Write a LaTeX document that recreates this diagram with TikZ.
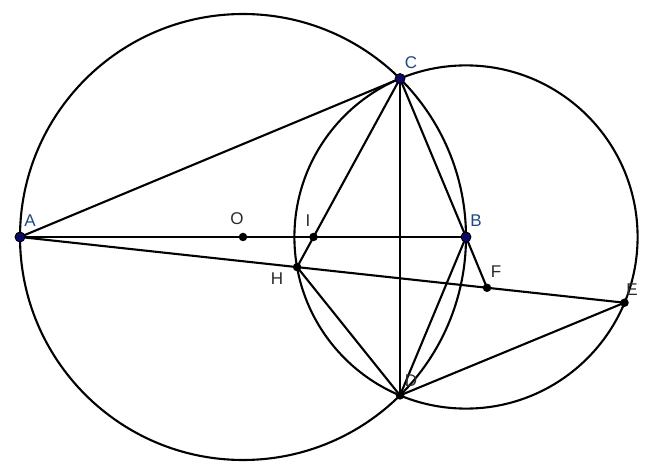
\documentclass[tikz,border=0pt]{standalone}
\usepackage{fontspec}
\setmainfont{Liberation Sans}
\begin{document}
\begin{tikzpicture}[x=1pt,y=-1pt,
  geo/.style={line width=2.1pt, black},
  bluept/.style={circle, fill=ptblue, draw=black, line width=0.9pt, inner sep=0pt, minimum size=10pt},
  blackpt/.style={circle, fill=black, inner sep=0pt, minimum size=8.5pt},
  bluelbl/.style={text=lblblue, font=\fontsize{17}{19}\selectfont, inner sep=0pt},
  blacklbl/.style={text=lblgray, font=\fontsize{17}{19}\selectfont, inner sep=0pt}]
\definecolor{ptblue}{HTML}{0A0A66}
\definecolor{lblblue}{HTML}{1E4A80}
\definecolor{lblgray}{HTML}{2A2A2A}
\useasboundingbox (0,0) rectangle (657,476);
\fill[white] (0,0) rectangle (657,476);
% points
\coordinate (O) at (243,237);
\coordinate (A) at (20,237);
\coordinate (B) at (466,237);
\coordinate (C) at (400,78.6);
\coordinate (D) at (400,395.4);
\coordinate (E) at (624.5,302.7);
\coordinate (H) at (297.1,267.1);
\coordinate (I) at (313.5,237);
\coordinate (F) at (487,287.8);
% circles
\draw[geo] (O) circle (223);
\draw[geo] (B) circle (171.6);
% segments
\draw[geo] (A) -- (C);
\draw[geo] (A) -- (B);
\draw[geo] (A) -- (E);
\draw[geo] (C) -- (D);
\draw[geo] (C) -- (H);
\draw[geo] (C) -- (B);
\draw[geo] (B) -- (D);
\draw[geo] (B) -- (F);
\draw[geo] (H) -- (D);
\draw[geo] (D) -- (E);
% point markers
\node[blackpt] (pO) at (O) {};
\node[blackpt] (pI) at (I) {};
\node[blackpt] (pH) at (H) {};
\node[blackpt] (pF) at (F) {};
\node[blackpt] (pE) at (E) {};
\node[blackpt] (pD) at (D) {};
\node[bluept] (pA) at (A) {};
\node[bluept] (pB) at (B) {};
\node[bluept] (pC) at (C) {};
% labels
\node[bluelbl] (lA) at (30,221) {A};
\node[bluelbl] (lB) at (476,221) {B};
\node[bluelbl] (lC) at (411,63) {C};
\node[blacklbl] (lO) at (237,219) {O};
\node[blacklbl] (lI) at (308,221) {I};
\node[blacklbl] (lH) at (277,279) {H};
\node[blacklbl] (lF) at (496,272) {F};
\node[blacklbl] (lE) at (632,290) {E};
\node[blacklbl] (lD) at (411,381) {D};
\end{tikzpicture}
\end{document}
